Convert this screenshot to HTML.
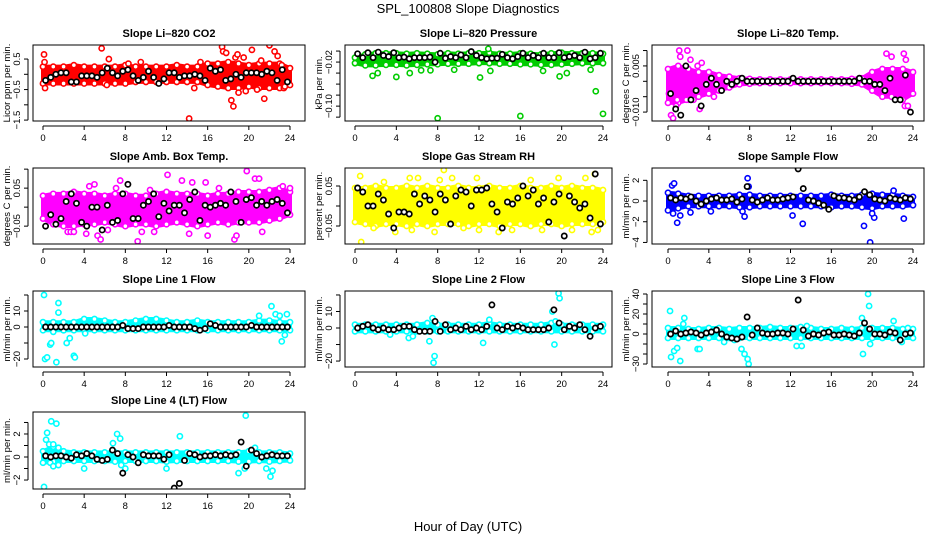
<!DOCTYPE html>
<html><head><meta charset="utf-8">
<style>
html,body{margin:0;padding:0;background:#fff;}
svg{display:block;font-family:"Liberation Sans",sans-serif;}
</style></head>
<body>
<svg id="chart" width="936" height="540" viewBox="0 0 936 540" xmlns="http://www.w3.org/2000/svg">
<text x="468" y="13" text-anchor="middle" font-size="13">SPL_100808  Slope Diagnostics</text>
<text x="468" y="531" text-anchor="middle" font-size="13">Hour of Day (UTC)</text>
</svg>
<script>
// ---- data ----
const xTicks=[0,4,8,12,16,20,24];
const co2Lo=[-0.3,-0.3,-0.3,-0.3,-0.3,-0.3,-0.3,-0.3,-0.3,-0.25,-0.25,-0.25,-0.25,-0.25,-0.25,-0.25,-0.35,-0.4,-0.45,-0.45,-0.4,-0.45,-0.45,-0.45,-0.35];
const co2Hi=[0.25,0.25,0.25,0.3,0.25,0.25,0.25,0.25,0.3,0.25,0.25,0.25,0.25,0.3,0.25,0.25,0.35,0.35,0.4,0.35,0.3,0.35,0.35,0.35,0.2];
const co2Out=[[0.1,0.65],[0.15,0.4],[0.2,-0.45],[5.7,0.85],[6.4,0.5],[8.3,0.35],[14.2,-1.45],[17.4,0.9],[17.5,0.75],[17.8,0.7],[18.3,-0.85],[18.5,-1.05],[18.7,0.55],[18.9,0.65],[19.0,-0.6],[19.5,0.55],[20.3,0.8],[21.2,0.45],[21.5,-0.8],[22.0,0.95],[22.5,0.75],[22.8,0.6],[23.2,0.3],[23.4,-0.45],[23.5,-0.4],[14.7,-0.45],[6.2,-0.35],[9.5,0.4],[15.3,0.4],[19.7,-0.55],[20.8,-0.5]];
const co2Black=[-0.2,-0.1,0,0.05,0.05,-0.25,-0.25,-0.05,-0.05,-0.05,-0.1,0.05,0.2,0.05,-0.05,0.1,0.15,-0.05,-0.2,-0.1,0.1,-0.1,-0.3,-0.15,0.05,0.05,-0.1,-0.05,-0.05,0,-0.05,-0.2,0.2,0.1,0.15,-0.2,-0.15,0,-0.1,0.05,0.05,0.05,0,0.1,0.05,-0.2,0.15,-0.25];
const prLo=[-0.022,-0.026,-0.026,-0.025,-0.025,-0.026,-0.025,-0.024,-0.024,-0.023,-0.023,-0.023,-0.022,-0.022,-0.023,-0.023,-0.024,-0.024,-0.025,-0.025,-0.024,-0.023,-0.022,-0.022,-0.022];
const prHi=[-0.012,-0.006,-0.004,-0.004,-0.004,-0.005,-0.004,-0.005,-0.006,-0.004,-0.005,-0.004,-0.004,-0.003,-0.005,-0.005,-0.004,-0.005,-0.006,-0.004,-0.003,-0.004,-0.004,-0.004,-0.005];
const prOut=[[1.7,-0.045],[2.2,-0.04],[4.0,-0.047],[5.3,-0.04],[6.4,-0.035],[8.0,-0.122],[16.0,-0.118],[24.0,-0.114],[23.3,-0.073],[12.1,-0.048],[13.1,-0.036],[12.9,0.004],[19.8,-0.046],[20.5,-0.04],[22.8,-0.034],[9.6,-0.034],[7.3,-0.035],[18.2,-0.036]];
const prBlack=[-0.005,-0.012,-0.003,-0.012,-0.002,-0.008,-0.01,-0.003,-0.012,-0.011,-0.014,-0.012,-0.012,-0.012,-0.011,-0.02,-0.004,-0.013,-0.01,-0.012,-0.007,-0.012,-0.001,-0.008,-0.012,-0.014,-0.013,-0.013,-0.006,-0.012,-0.014,-0.01,-0.004,-0.012,-0.008,-0.012,-0.004,-0.012,-0.012,-0.003,-0.012,-0.01,-0.008,-0.012,-0.002,-0.014,-0.012,-0.004];
const tLo=[-0.007,-0.007,-0.006,-0.005,-0.004,-0.003,-0.002,-0.001,-0.0008,-0.0006,-0.0006,-0.0006,-0.0006,-0.0006,-0.0006,-0.0006,-0.0006,-0.0006,-0.0008,-0.001,-0.003,-0.005,-0.005,-0.006,-0.004];
const tHi=[0.004,0.005,0.004,0.003,0.003,0.002,0.0015,0.001,0.0008,0.0006,0.0006,0.0006,0.0006,0.0006,0.0006,0.0006,0.0006,0.0006,0.0008,0.001,0.003,0.004,0.004,0.004,0.003];
const tOut=[[0.3,-0.011],[0.5,-0.012],[0.8,-0.008],[1.1,0.010],[1.2,0.008],[1.9,0.010],[2.2,0.007],[2.9,0.005],[3.3,0.006],[3.1,-0.009],[1.8,-0.006],[0.1,-0.004],[21.4,0.009],[21.9,0.008],[23.1,0.009],[23.3,0.007],[23.2,-0.008],[23.5,-0.008],[21.9,-0.005],[4.5,-0.005],[0.9,-0.006],[2.5,-0.006]];
const tBlack=[-0.004,-0.009,-0.011,0.005,-0.006,-0.003,-0.008,-0.001,0.001,-0.001,-0.003,0,-0.001,0,0.001,0,0,0,0,0,0,0,0,0,0.001,0,0,0,0,0,0,0,0,0,0,0,0,0.001,0,0,-0.001,-0.001,-0.003,0.001,-0.006,-0.006,0.002,-0.010];
const abLo=[-0.03,-0.045,-0.05,-0.05,-0.045,-0.045,-0.04,-0.045,-0.05,-0.045,-0.045,-0.05,-0.045,-0.04,-0.045,-0.05,-0.045,-0.04,-0.045,-0.04,-0.04,-0.04,-0.035,-0.03,-0.02];
const abHi=[0.03,0.035,0.035,0.04,0.035,0.035,0.03,0.035,0.035,0.03,0.03,0.035,0.04,0.035,0.035,0.035,0.03,0.035,0.035,0.04,0.04,0.04,0.045,0.05,0.04];
const abOut=[[2.4,-0.065],[2.7,-0.065],[3.0,-0.065],[4.2,-0.07],[4.5,0.055],[5.0,0.06],[5.3,-0.075],[5.6,-0.085],[7.1,0.05],[7.5,0.07],[9.2,-0.09],[9.6,-0.065],[10.4,0.045],[12.1,0.085],[13.5,0.07],[14.5,0.065],[15.8,0.065],[16.0,-0.075],[18.6,-0.085],[18.8,-0.075],[19.8,0.095],[20.6,0.075],[21.0,0.075],[21.3,-0.065],[23.3,0.055],[24.0,0.05],[17.1,0.05],[10.8,-0.065],[6.3,-0.06],[14.2,-0.07]];
const abBlack=[-0.05,-0.02,-0.045,-0.03,0.015,0.035,0.01,-0.04,-0.05,0,0,-0.06,0.005,-0.04,-0.035,0.035,0.06,-0.03,-0.03,0.005,0.015,0.035,-0.025,0.01,-0.01,0.005,0.005,-0.015,0.02,0.04,-0.035,0.005,0,0.005,0.01,0.005,0.04,0.015,-0.04,0.02,0.025,0.005,0.015,0.005,0.015,0.02,0.01,-0.015];
const rhLo=[-0.04,-0.045,-0.05,-0.045,-0.045,-0.05,-0.045,-0.05,-0.045,-0.045,-0.045,-0.05,-0.045,-0.045,-0.05,-0.045,-0.045,-0.05,-0.045,-0.045,-0.05,-0.045,-0.045,-0.045,-0.04];
const rhHi=[0.045,0.045,0.05,0.045,0.045,0.05,0.045,0.05,0.045,0.045,0.05,0.045,0.045,0.05,0.045,0.045,0.05,0.045,0.045,0.05,0.045,0.05,0.045,0.045,0.04];
const rhOut=[[0.5,0.075],[0.6,-0.09],[1.8,-0.055],[2.8,0.06],[3.9,-0.065],[5.3,0.07],[5.5,-0.06],[8.2,0.065],[8.6,0.09],[9.4,0.07],[7.7,-0.065],[11.8,0.07],[12.0,-0.06],[13.9,-0.065],[15.2,-0.06],[17.0,0.065],[19.7,0.07],[21.0,-0.06],[22.3,0.07],[22.9,-0.065],[23.2,0.08],[23.5,-0.06],[6.1,0.07],[18.1,-0.06],[10.5,-0.055]];
const rhBlack=[0.045,0.035,0,0,0.03,0.015,-0.02,-0.055,-0.015,-0.015,-0.02,0.03,0.005,0.025,0.015,-0.015,0.03,0.015,-0.045,0.025,0.04,0.035,0,0.04,0.04,0.045,0.005,-0.015,-0.055,0.01,0.005,0.02,0.05,0.025,0.04,0.005,0.02,-0.04,0.01,0.03,-0.075,0.025,0.01,-0.005,0.005,-0.03,0.08,-0.045];
const sfLo=[-0.9,-0.7,-0.5,-0.5,-0.5,-0.5,-0.5,-0.6,-0.6,-0.5,-0.5,-0.5,-0.5,-0.5,-0.5,-0.5,-0.6,-0.5,-0.5,-0.6,-0.7,-0.5,-0.5,-0.5,-0.4];
const sfHi=[0.8,0.7,0.5,0.5,0.5,0.5,0.5,0.6,0.6,0.5,0.5,0.5,0.5,0.5,0.5,0.5,0.6,0.5,0.5,0.6,0.7,0.6,0.6,0.5,0.4];
const sfOut=[[0.4,1.5],[0.6,1.7],[0.5,-1.2],[0.9,-2.1],[1.2,-1.4],[7.8,2.2],[7.9,1.4],[7.3,-1.0],[7.5,-1.5],[13.2,-2.2],[12.2,-1.4],[19.8,-4],[19.2,-2.4],[20.2,-1.6],[22.1,1.0],[23.1,-1.7],[4.2,-1.0],[2.2,-1.1],[20.0,-1.2]];
const sfBlack=[0.3,0.1,0.3,0.2,0.4,0,-0.3,0,0.2,0.3,0.1,0.1,0.2,-0.1,0.2,1.4,0.1,-0.1,0.1,0.3,0.1,0.1,0.2,0.3,0.4,3.1,1.2,0.1,0,-0.2,-0.4,-0.8,0.5,0.3,0.3,0.2,0.1,0.4,0.9,0.6,0.2,0.1,0,0.3,0.2,0.1,0.3,0.2];
const l1Lo=[-2,-2,-2,-2,-2,-2,-2,-2,-2,-2,-2,-2,-2,-2,-2,-2,-2,-2,-2,-2,-2,-2,-2,-2,-2];
const l1Hi=[3,3,3,3,5,5,4,3,3,4,5,5,4,3,3,4,3,3,3,3,3,4,4,3,3];
const l1Out=[[0.1,20],[0.2,-20],[0.4,-19],[0.7,-11],[0.8,-10],[1.3,-22],[1.5,15],[1.5,9],[2.3,-10],[2.6,-7],[3.0,-18],[3.1,-19],[4.1,-4],[22.2,13],[22.6,8],[23.0,7],[23.2,-9],[23.5,-5],[23.7,8],[21.0,7],[1.0,-3],[2.0,-2]];
const l1Black=[0,0,0,0,0,0,0,0,0,0,0,0,0,0,0,1,-1,-1,-1,0,0,0,0,0,1,0,0,0,0,-1,-2,-1,2,1,0,0,0,0,0,0,1,0,0,0,0,0,0,0];
const l2Lo=[-2,-2,-2,-2,-2,-2,-2,-2,-2,-2,-2,-2,-2,-2,-2,-2,-2,-2,-2,-2,-2,-2,-2,-2,-2];
const l2Hi=[2,2,2,2,2,2,2,3,2,2,2,2,2,3,2,2,2,2,2,3,2,2,2,2,2];
const l2Out=[[7.6,-21],[7.7,-17],[7.5,6],[7.2,-8],[5.2,-6],[12.4,-9],[13.0,5],[19.3,-10],[19.4,4],[19.7,21],[19.8,18],[19.1,10],[3.4,-4],[5.6,-5]];
const l2Black=[0,1,2,0,-1,0,-1,-1,0,1,1,-1,-2,-2,-2,4,-2,2,-1,0,-1,1,-1,0,-1,1,14,0,-1,1,0,1,0,-1,-1,-1,-1,0,11,3,-1,1,0,2,-1,-5,0,1];
const l3Lo=[-4,-4,-4,-4,-4,-4,-4,-4,-4,-4,-4,-4,-4,-4,-4,-4,-4,-4,-4,-4,-4,-4,-4,-4,-4];
const l3Hi=[6,6,5,5,6,6,5,6,6,6,7,6,6,7,6,5,5,6,5,6,6,6,6,5,5];
const l3Out=[[0.2,23],[0.3,-23],[0.6,-17],[0.9,-14],[1.2,-27],[1.6,16],[1.5,10],[2.9,-15],[3.1,-15],[7.2,-15],[7.5,-20],[7.9,-30],[7.8,-25],[12.6,-12],[13.1,-12],[13.6,8],[19.1,-20],[19.6,40],[19.7,28],[19.8,-10],[19.0,16],[22.1,13],[22.9,-8],[23.5,6],[5.5,-8],[6.5,-6]];
const l3Black=[0,3,0,1,2,1,-1,1,2,4,0,-3,-4,-5,-3,17,-1,6,1,0,0,1,1,0,5,34,4,-2,0,-1,1,2,-1,-1,0,-1,-2,1,11,5,0,0,-1,2,1,-6,0,1];
const l4Lo=[-0.5,-0.4,-0.35,-0.35,-0.35,-0.35,-0.35,-0.4,-0.35,-0.35,-0.35,-0.35,-0.4,-0.35,-0.35,-0.35,-0.35,-0.35,-0.35,-0.4,-0.4,-0.35,-0.4,-0.35,-0.3];
const l4Hi=[0.5,0.9,0.5,0.4,0.4,0.4,0.4,0.4,0.4,0.4,0.4,0.4,0.4,0.4,0.4,0.4,0.4,0.4,0.4,0.4,0.5,0.4,0.4,0.4,0.3];
const l4Out=[[0.1,-2.6],[0.3,1.5],[0.4,2.1],[0.8,3.1],[1.3,2.9],[0.7,-0.5],[1.0,-0.8],[1.5,-0.7],[4.0,-1.0],[6.8,1.2],[7.2,2.0],[7.5,1.6],[7.6,-0.7],[8.0,-1.0],[12.0,-1.0],[13.3,1.8],[19.0,-1.4],[19.6,-1.0],[19.7,3.6],[20.6,0.8],[21.7,-1.0],[22.1,-1.7],[22.3,-1.2],[0.6,1.1],[1.0,1.1],[1.5,0.8]];
const l4Black=[0.1,0,0.1,0.1,0,-0.1,0.2,0.1,0.3,0.1,-0.2,-0.3,-0.2,0.6,0.3,-1.4,0.2,0,-0.5,0.2,0.1,0.1,0.1,-0.2,0.2,-2.7,-2.3,-0.3,0.3,0.2,0,0.1,0.1,0.2,0.1,0.2,0.1,0.2,1.3,-0.8,0.6,0.3,0,0.1,0.2,0.1,0.1,0.1];

// ---- layout (not data) ----
const cols=[{bx0:33,bx1:305,x0:43,x1:290},{bx0:345,bx1:612,x0:355,x1:603},{bx0:652,bx1:924,x0:668,x1:913}];
const rows=[{by0:45,by1:121},{by0:168,by1:244},{by0:291,by1:367},{by0:412,by1:489}];
const panels=[
 {name:'co2',title:'Slope Li\u2013820 CO2',ylab:'Licor ppm per min.',c:0,r:0,ymin:-1.53,ymax:0.96,ticks:[-1.5,-1,-0.5,0,0.5],labels:['-1.5','-0.5','0.5'],col:'#ff0000',lo:co2Lo,hi:co2Hi,out:co2Out,blk:co2Black},
 {name:'pressure',title:'Slope Li\u2013820 Pressure',ylab:'kPa per min.',c:1,r:0,ymin:-0.127,ymax:0.011,ticks:[0,-0.02,-0.04,-0.06,-0.08,-0.1,-0.12],labels:['-0.02','-0.10'],col:'#00cc00',lo:prLo,hi:prHi,out:prOut,blk:prBlack},
 {name:'temp',title:'Slope Li\u2013820 Temp.',ylab:'degrees C per min.',c:2,r:0,ymin:-0.0129,ymax:0.0118,ticks:[0.01,0.005,0,-0.005,-0.01],labels:['0.005','-0.010'],col:'#ff00ff',lo:tLo,hi:tHi,out:tOut,blk:tBlack},
 {name:'amb-box-temp',title:'Slope Amb. Box Temp.',ylab:'degrees C per min.',c:0,r:1,ymin:-0.097,ymax:0.103,ticks:[-0.05,0,0.05,0.1],labels:['-0.05','0.05'],col:'#ff00ff',lo:abLo,hi:abHi,out:abOut,blk:abBlack},
 {name:'gas-stream-rh',title:'Slope Gas Stream RH',ylab:'percent per min.',c:1,r:1,ymin:-0.095,ymax:0.095,ticks:[-0.05,0,0.05],labels:['-0.05','0.05'],col:'#ffff00',lo:rhLo,hi:rhHi,out:rhOut,blk:rhBlack},
 {name:'sample-flow',title:'Slope Sample Flow',ylab:'ml/min per min.',c:2,r:1,ymin:-4.15,ymax:3.19,ticks:[-4,-2,0,2],labels:['-4','-2','0','2'],col:'#0000ff',lo:sfLo,hi:sfHi,out:sfOut,blk:sfBlack},
 {name:'line1-flow',title:'Slope Line 1 Flow',ylab:'ml/min per min.',c:0,r:2,ymin:-25,ymax:22.5,ticks:[-20,-10,0,10,20],labels:['-20','0','10'],col:'#00ffff',lo:l1Lo,hi:l1Hi,out:l1Out,blk:l1Black},
 {name:'line2-flow',title:'Slope Line 2 Flow',ylab:'ml/min per min.',c:1,r:2,ymin:-23.6,ymax:22.4,ticks:[-20,-10,0,10,20],labels:['-20','0','10'],col:'#00ffff',lo:l2Lo,hi:l2Hi,out:l2Out,blk:l2Black},
 {name:'line3-flow',title:'Slope Line 3 Flow',ylab:'ml/min per min.',c:2,r:2,ymin:-33,ymax:43,ticks:[-30,-20,-10,0,10,20,30,40],labels:['-30','0','20','40'],col:'#00ffff',lo:l3Lo,hi:l3Hi,out:l3Out,blk:l3Black},
 {name:'line4-flow',title:'Slope Line 4 (LT) Flow',ylab:'ml/min per min.',c:0,r:3,ymin:-2.78,ymax:3.91,ticks:[-2,-1,0,1,2,3],labels:['-2','0','2'],col:'#00ffff',lo:l4Lo,hi:l4Hi,out:l4Out,blk:l4Black}
];
const NS='http://www.w3.org/2000/svg';
const svg=document.getElementById('chart');
function mk(tag,attrs,parent){const e=document.createElementNS(NS,tag);for(const k in attrs)e.setAttribute(k,attrs[k]);(parent||svg).appendChild(e);return e;}
panels.forEach(p=>{
 const C=cols[p.c],R=rows[p.r];
 const g=mk('g',{});
 
 
 const xs=h=>C.x0+(C.x1-C.x0)*h/24;
 const ys=v=>R.by1-(R.by1-R.by0)*(v-p.ymin)/(p.ymax-p.ymin);
 // title
 const t=mk('text',{x:(C.bx0+C.bx1)/2,y:R.by0-8,'text-anchor':'middle','font-size':'11','font-weight':'bold'},g);
 t.textContent=p.title;
 
 
 // clip
 const cid='clip-'+p.name;
 const cp=mk('clipPath',{id:cid},g);
 mk('rect',{x:C.bx0,y:R.by0,width:C.bx1-C.bx0,height:R.by1-R.by0},cp);
 const plot=mk('g',{'clip-path':'url(#'+cid+')'},g);
 
 
 // band
 let pts=[];
 p.hi.forEach((v,i)=>pts.push(xs(i)+','+ys(v)));
 for(let i=p.lo.length-1;i>=0;i--)pts.push(xs(i)+','+ys(p.lo[i]));
 const band=mk('polygon',{points:pts.join(' '),fill:p.col,stroke:p.col,'stroke-width':'4','stroke-linejoin':'round'},plot);
 
 
 // band-edge circles for texture
 p.hi.forEach((v,i)=>{
  [v,p.lo[i]].forEach(w=>{
   const c=mk('circle',{cx:xs(i),cy:ys(w),r:2.6,fill:'#fff',stroke:p.col,'stroke-width':'1.6'},plot);
   
   
  });
 });
 p.out.forEach(o=>{
  const c=mk('circle',{cx:xs(o[0]),cy:ys(o[1]),r:2.6,fill:'#fff',stroke:p.col,'stroke-width':'1.6'},plot);
  
  
 });
 p.blk.forEach((v,i)=>{
  const c=mk('circle',{cx:xs(0.25+0.5*i),cy:ys(v),r:2.6,fill:'#fff',stroke:'#000','stroke-width':'1.7'},plot);
  
  
 });
 // box
 const box=mk('rect',{x:C.bx0,y:R.by0,width:C.bx1-C.bx0,height:R.by1-R.by0,fill:'none',stroke:'#000','stroke-width':'1'},g);
 
 
 // x axis
 mk('line',{x1:xs(0),x2:xs(24),y1:R.by1+5,y2:R.by1+5,stroke:'#000'},g);
 xTicks.forEach(h=>{
  mk('line',{x1:xs(h),x2:xs(h),y1:R.by1+5,y2:R.by1+9,stroke:'#000'},g);
  const tx=mk('text',{x:xs(h),y:R.by1+20,'text-anchor':'middle','font-size':'9.5'},g);
  tx.textContent=h;
  
  
 });
 // y axis
 const yt=p.ticks.filter(v=>v>=p.ymin-1e-9&&v<=p.ymax+1e-9);
 const ax=C.bx0-5;
 mk('line',{x1:ax,x2:ax,y1:ys(Math.min(...yt)),y2:ys(Math.max(...yt)),stroke:'#000'},g);
 yt.forEach(v=>mk('line',{x1:ax-4,x2:ax,y1:ys(v),y2:ys(v),stroke:'#000'},g));
 p.labels.forEach(l=>{
  const v=parseFloat(l);
  const tx=mk('text',{x:0,y:0,'text-anchor':'middle','font-size':'9.5',transform:'translate('+(ax-8)+','+ys(v)+') rotate(-90)'},g);
  tx.textContent=l.replace('-','\u2212');
  
  
 });
 const yl=mk('text',{x:0,y:0,'text-anchor':'middle','font-size':'9.5',transform:'translate('+(C.bx0-23)+','+((R.by0+R.by1)/2)+') rotate(-90)'},g);
 yl.textContent=p.ylab;
 
 
});
</script>
</body></html>
